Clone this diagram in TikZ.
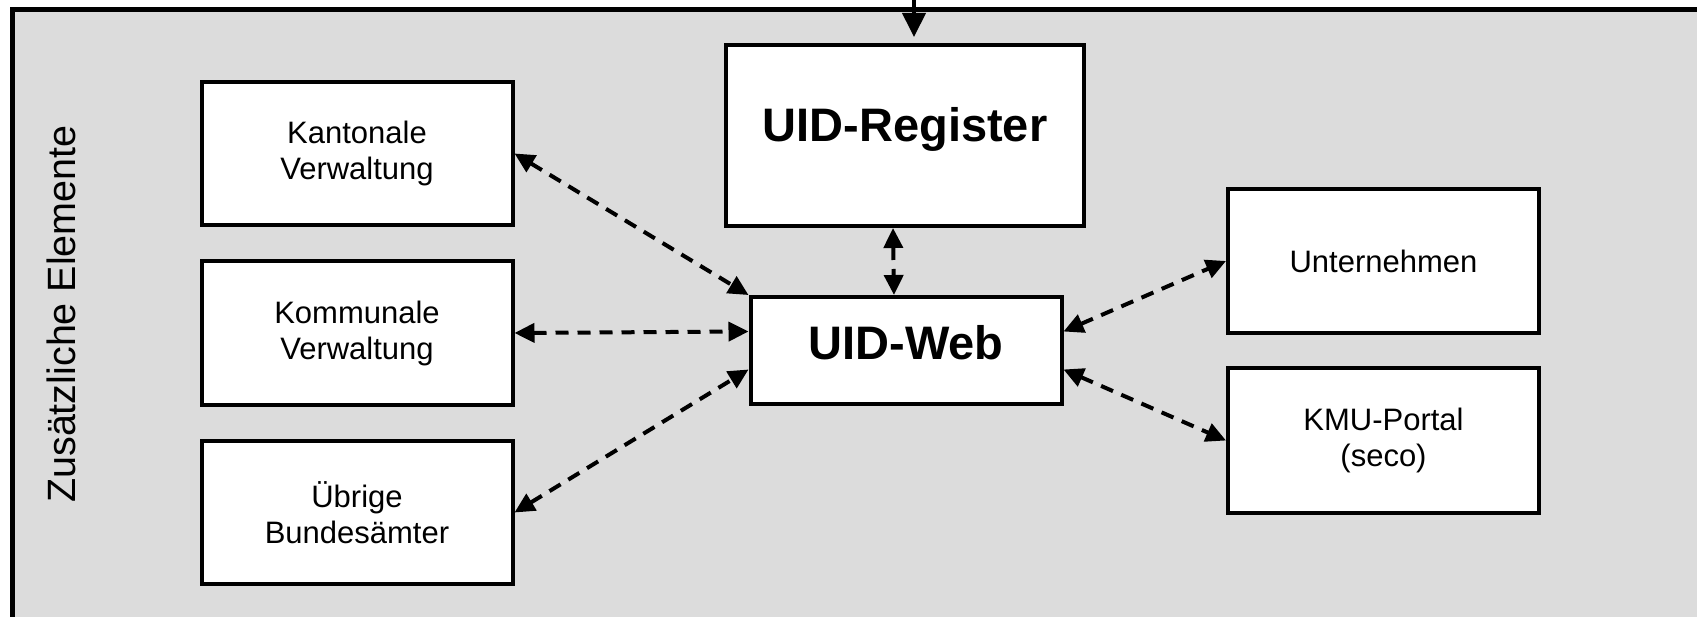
\documentclass[tikz,border=0pt]{standalone}
\usepackage{fontspec}
\setmainfont{Liberation Sans}
\usetikzlibrary{arrows.meta}
\definecolor{fond}{RGB}{220,220,220}
\begin{document}
\begin{tikzpicture}[x=1pt,y=-1pt]
		\tikzstyle{fleche}=[<->,>={Triangle[length=20pt,width=19pt]},line width=4pt,dash pattern=on 13pt off 9pt]
		\tikzstyle{entree}=[->,>={Triangle[length=24pt,width=23pt]},line width=4pt]
		\tikzstyle{cadre}=[draw,line width=5pt,fill=fond]
		\tikzstyle{boite}=[draw,line width=4pt,fill=white,align=center,font=\fontsize{31}{36}\selectfont,minimum width=\LargeurBoite,minimum height=\HauteurBoite]
		\tikzstyle{grandeboite}=[boite,font=\fontsize{47}{56}\selectfont\bfseries]
		
		\def\LargeurBoite{311pt}
		\def\HauteurBoite{143pt}
		\def\EcartBoites{179.5}
		
		\def\ColonneA{357}
		\def\ColonneB{906}
		\def\ColonneC{1383.5}
		\def\LigneA{153.5}
		\def\LigneC{261}
		
		\useasboundingbox (0,0) rectangle (1697,617);
		\clip (0,0) rectangle (1697,617);
		\fill[white] (0,0) rectangle (1697,617);
		\draw[cadre] (12,10) rectangle (1720,640);
		
		\node[rotate=90,font=\fontsize{39.5}{44}\selectfont] (titre) at (61.5,314) {Zusätzliche Elemente};
		
		\node[boite] (Kan) at ({\ColonneA},{\LigneA+(0)*\EcartBoites}) {Kantonale\\Verwaltung};
		\node[boite] (Kom) at ({\ColonneA},{\LigneA+(1)*\EcartBoites}) {Kommunale\\Verwaltung};
		\node[boite] (Bund) at ({\ColonneA},{\LigneA+(2)*\EcartBoites}) {Übrige\\Bundesämter};
		\node[grandeboite,minimum width=358pt,minimum height=181pt,text depth=22pt] (Reg) at (905,135.5) {UID-Register};
		\node[grandeboite,minimum width=311pt,minimum height=107pt,text depth=16pt] (Web) at ({\ColonneB},350.5) {UID-Web};
		\node[boite,minimum height=144pt] (Unt) at ({\ColonneC},{\LigneC}) {Unternehmen};
		\node[boite,minimum height=144pt] (Kmu) at ({\ColonneC},{\LigneC+\EcartBoites}) {KMU-Portal\\(seco)};
		
		\coordinate (ext) at (914,-4);
		
		\draw[entree] (ext)--([xshift=9pt,yshift=6pt]Reg.north);
		\draw[fleche] ([xshift=-12pt]Reg.south)--([xshift=-12pt]Web.north);
		\draw[fleche] (Kan.east)--(Web.north west);
		\draw[fleche] (Kom.east)--([yshift=19pt]Web.west);
		\draw[fleche] (Bund.east)--([yshift=-19pt]Web.west);
		\draw[fleche] ([yshift=19pt]Web.east)--(Unt.west);
		\draw[fleche] ([yshift=-19pt]Web.east)--(Kmu.west);
		\end{tikzpicture}
\end{document}
